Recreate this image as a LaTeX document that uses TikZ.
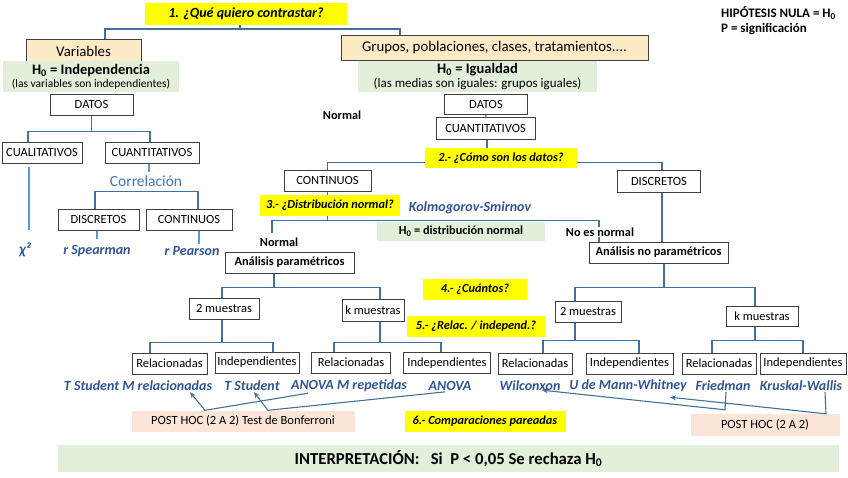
\documentclass[tikz,border=0pt]{standalone}
\usepackage{fontspec}
\setmainfont{Carlito}
\usepackage{tikz}
\usetikzlibrary{arrows.meta,backgrounds}
\definecolor{lineblue}{HTML}{41719C}
\definecolor{lightblue}{HTML}{5B9BD5}
\definecolor{textblue}{HTML}{2F5597}
\definecolor{corrblue}{HTML}{4472C4}
\definecolor{qyellow}{HTML}{FFFF00}
\definecolor{peach}{HTML}{FDEBC8}
\definecolor{palegreen}{HTML}{E2EFDA}
\definecolor{palepink}{HTML}{FBE5D6}
\newcommand{\hnull}{H\textsubscript{0}}

\begin{document}
\begin{tikzpicture}[x=1pt,y=-1pt,
			box/.style={draw=black!75,line width=0.9pt,fill=white,minimum width=#1pt,minimum height=21pt,inner sep=1pt,font=\fontsize{12.5}{14}\selectfont},
			box/.default=60,
			quest/.style={fill=qyellow,minimum width=#1pt,minimum height=21pt,inner sep=1pt,font=\fontsize{12.3}{14}\selectfont\bfseries\itshape},
			head/.style={draw=black!75,line width=0.9pt,fill=peach,minimum width=#1pt,minimum height=23pt,inner sep=1pt,font=\fontsize{14.8}{16}\selectfont},
			hyp/.style={fill=palegreen,minimum width=#1pt,minimum height=31pt,inner sep=1pt,align=center},
			posthoc/.style={fill=palepink,minimum width=#1pt,minimum height=21pt,inner sep=1pt,font=\fontsize{12.5}{14}\selectfont},
			test/.style={text=textblue,inner sep=1pt,font=\fontsize{14}{16}\selectfont\bfseries\itshape},
			lbl/.style={inner sep=1pt,font=\fontsize{12.3}{14}\selectfont\bfseries},
			ln/.style={draw=lineblue,line width=1.8pt},
			lb/.style={draw=lightblue,line width=2.6pt},
			arw/.style={-{Stealth[length=6pt,width=5pt]},draw=lineblue,line width=1.1pt}
			]
			\useasboundingbox (0,0) rectangle (848,477);
			% cabecera
			\node[quest=202,minimum height=22pt,font=\fontsize{14}{16}\selectfont\bfseries\itshape] (q1) at (246,14) {1. ¿Qué quiero contrastar?};
			\node[lbl,anchor=west,align=left,font=\fontsize{13}{15}\selectfont\bfseries] (leg) at (720,20.5) {HIPÓTESIS NULA = \hnull\\P = significación};
			\node[head=115] (var) at (83.5,51) {Variables};
			\node[hyp=176] (h0i) at (91,76.5) {{\fontsize{14.5}{15}\selectfont\bfseries \hnull{} = Independencia}\\[1pt]{\fontsize{11.5}{12}\selectfont (las variables son independientes)}};
			\node[head=307,minimum height=25pt] (grp) at (494.5,47.5) {Grupos, poblaciones, clases, tratamientos....};
			\node[hyp=239] (h0g) at (477.5,76.5) {{\fontsize{14.5}{15}\selectfont\bfseries \hnull{} = Igualdad}\\[2.5pt]{\fontsize{13}{13}\selectfont (las medias son iguales: grupos iguales)}};
			\node[lbl] (nrmtop) at (342,115) {Normal};
			% variables
			\node[box=83] (datL) at (91.5,104.5) {DATOS};
			\node[box=80] (cual) at (42,152.5) {CUALITATIVOS};
			\node[box=94] (cuan) at (152,152.5) {CUANTITATIVOS};
			\node[text=textblue,font=\fontsize{15}{17}\selectfont\bfseries\itshape] (chi) at (25,250) {χ²};
			\node[text=corrblue,font=\fontsize{15.5}{17}\selectfont] (corr) at (146,181) {Correlación};
			\node[box=81] (discL) at (98.5,219.5) {DISCRETOS};
			\node[box=86] (contL) at (189,219.5) {CONTINUOS};
			\node[test] (rsp) at (97,251) {r Spearman};
			\node[test] (rpe) at (192,251) {r Pearson};
			% grupos
			\node[box=83,minimum height=20pt] (datR) at (486,104) {DATOS};
			\node[box=99,minimum height=22pt] (cuanR) at (485.5,128) {CUANTITATIVOS};
			\node[quest=152,minimum height=20pt] (q2) at (501,158) {2.- ¿Cómo son los datos?};
			\node[box=87] (contM) at (327.5,180.5) {CONTINUOS};
			\node[box=83,minimum height=22pt] (discR) at (659,181) {DISCRETOS};
			\node[quest=140] (q3) at (330,205.5) {3.- ¿Distribución normal?};
			\node[test] (ks) at (470,208) {Kolmogorov-Smirnov};
			\node[hyp=168,minimum height=19pt,font=\fontsize{12.3}{14}\selectfont\bfseries] (h0n) at (461,231.5) {\hnull{} = distribución normal};
			\node[lbl] (nrm) at (279,242) {Normal};
			\node[lbl,fill=white] (nonrm) at (600,232) {No es normal};
			\node[box=129,font=\fontsize{12.4}{14}\selectfont\bfseries] (ap) at (289.5,262.5) {Análisis paramétricos};
			\node[box=139,font=\fontsize{12.4}{14}\selectfont\bfseries] (anp) at (658.5,252.5) {Análisis no paramétricos};
			\node[quest=104] (q4) at (475,289.5) {4.- ¿Cuántos?};
			\node[box=70] (m2L) at (224,308.5) {2 muestras};
			\node[box=62,minimum height=22pt] (mkL) at (373,310) {k muestras};
			\node[quest=138] (q5) at (476,326.5) {5.- ¿Relac. / independ.?};
			\node[box=66] (m2R) at (588,311.5) {2 muestras};
			\node[box=72,minimum height=20pt] (mkR) at (762,316) {k muestras};
			\node[box=75] (rel1) at (169.5,363.5) {Relacionadas};
			\node[box=84] (ind1) at (257,362.5) {Independientes};
			\node[box=79] (rel2) at (351,362.5) {Relacionadas};
			\node[box=87] (ind2) at (447,363) {Independientes};
			\node[box=74] (rel3) at (535,363.5) {Relacionadas};
			\node[box=87] (ind3) at (629.5,363.5) {Independientes};
			\node[box=74] (rel4) at (719,363.5) {Relacionadas};
			\node[box=86] (ind4) at (803,363.5) {Independientes};
			\node[test] (tsm) at (138,386) {T Student M relacionadas};
			\node[test] (tst) at (252,386) {T Student};
			\node[test] (anm) at (349,386) {ANOVA M repetidas};
			\node[test] (ano) at (450,386) {ANOVA};
			\node[test] (wil) at (530,386) {Wilconxon};
			\node[test] (umw) at (628,386) {U de Mann-Whitney};
			\node[test] (fri) at (723,386) {Friedman};
			\node[test] (kru) at (801,386) {Kruskal-Wallis};
			\node[posthoc=223] (ph1) at (243,421) {POST HOC (2 A 2) Test de Bonferroni};
			\node[quest=161] (q6) at (485,421.5) {6.- Comparaciones pareadas};
			\node[posthoc=149,minimum height=22pt] (ph2) at (765,425) {POST HOC (2 A 2)};
			\node[fill=palegreen,minimum width=781pt,minimum height=27pt,inner sep=1pt,font=\fontsize{16.7}{18}\selectfont\bfseries] (interp) at (448.5,458.5) {INTERPRETACIÓN:\ \ \ Si\ \ P < 0,05 Se rechaza \hnull};
			\begin{scope}[on background layer]
				\draw[ln] ([xshift=-6pt]q1.south) -- ++(0,4) coordinate (b1);
				\draw[ln] ([xshift=21.5pt]var.north) |- (b1) -| ([xshift=-94.5pt]grp.north);
				\draw[ln] (datL.south) -- ++(0,16) coordinate (bL);
				\draw[ln] ([xshift=-14pt]cual.north) |- (bL) -| ([xshift=-2pt]cuan.north);
				\draw[lb] ([xshift=-13pt,yshift=-4pt]cual.south) -- ([xshift=4pt,yshift=9pt]chi.north);
				\draw[lb] ([xshift=-3pt]cuan.south) -- ([xshift=-3pt]cuan.south |- corr.north);
				\draw[ln] ([xshift=-3.5pt]discL.north) -- ++(0,-17) -| ([xshift=9pt]contL.north);
				\draw[lb] (discL.south -| rsp.north) -- ([yshift=5pt]rsp.north);
				\draw[lb] ([xshift=10pt]contL.south) -- ([xshift=7pt,yshift=1pt]rpe.north);
				\draw[ln] (datR) -- (cuanR);
				\draw[ln] ([xshift=1.5pt]cuanR.south) -- ++(0,23) coordinate (b2);
				\draw[ln] (contM.north) |- (b2) -| ([xshift=3pt]discR.north);
				\draw[ln] (contM.south) -- ++(0,29) coordinate (b3);
				\draw[ln] ([xshift=-7pt,yshift=3pt]nrm.north) |- (b3) -| ([xshift=-59.5pt]anp.north);
				\draw[ln] ([xshift=3pt]discR.south) -- ([xshift=3.5pt]anp.north);
				\draw[ln] ([xshift=-15.5pt]ap.south) -- ++(0,14) coordinate (b4);
				\draw[ln] ([xshift=-2pt]m2L.north) |- (b4) -| ([xshift=7pt]mkL.north);
				\draw[ln] ([xshift=-2pt]m2L.south) -- ++(0,23) coordinate (b5);
				\draw[ln] ([xshift=-19.5pt]rel1.north) |- (b5) -| ([xshift=16pt]ind1.north);
				\draw[ln] ([xshift=7pt]mkL.south) -- ++(0,21) coordinate (b6);
				\draw[ln] ([xshift=-17pt]rel2.north) |- (b6) -| ([xshift=-6pt]ind2.north);
				\draw[ln] ([xshift=5.5pt]anp.south) -- ++(0,24) coordinate (b7);
				\draw[ln] ([xshift=-13pt]m2R.north) |- (b7) -| ([xshift=-7pt]mkR.north);
				\draw[ln] ([xshift=-13pt]m2R.south) -- ++(0,18) coordinate (b8);
				\draw[ln] ([xshift=8pt]rel3.north) |- (b8) -| ([xshift=9.5pt]ind3.north);
				\draw[ln] ([xshift=-7pt]mkR.south) -- ++(0,14) coordinate (b9);
				\draw[ln] ([xshift=-7pt]rel4.north) |- (b9) -| (ind4.north);
			\end{scope}
			% comparaciones
			\draw[arw] ([xshift=-41pt]anm.south) -- ([xshift=-38pt]ph1.north) -- ([xshift=52pt]tsm.south);
			\draw[arw] ([xshift=-5pt]ano.south) -- ([xshift=25pt]ph1.north) -- ([xshift=2pt]tst.south);
			\draw[arw] ([xshift=3pt]fri.south) -- ([xshift=-40pt,yshift=4pt]ph2.north) -- ([xshift=12pt,yshift=2pt]wil.south);
			\draw[arw] ([xshift=24pt]kru.south) -- ([xshift=61pt]ph2.north) -- ([xshift=42pt,yshift=-4pt]umw.south);
		\end{tikzpicture}
\end{document}
